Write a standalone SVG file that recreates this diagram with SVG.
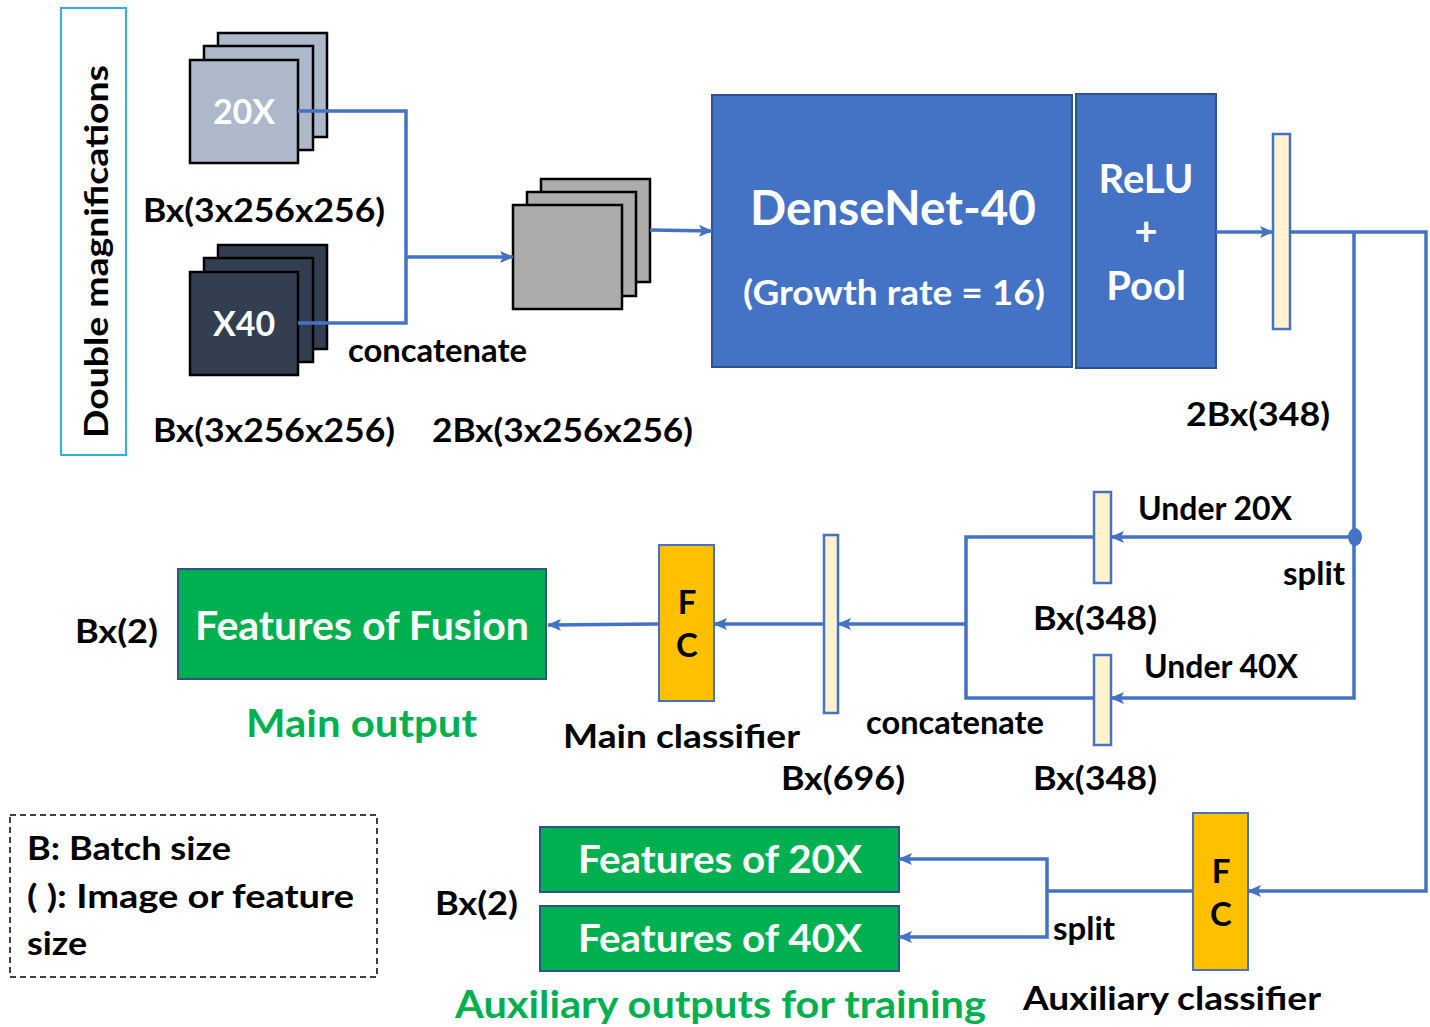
<svg xmlns="http://www.w3.org/2000/svg" width="1430" height="1027" viewBox="0 0 1430 1027">
<style>
text{font-family:Lato,"Open Sans","Liberation Sans",sans-serif;font-weight:bold;}
.blk{fill:#000;font-size:33px;}
.wht{fill:#fff;}
.grn{fill:#00B050;font-size:38px;}
.conn{fill:none;stroke:#4472C4;stroke-width:3.5;}
.s20{fill:#ADB9CA;stroke:#000;stroke-width:2.5;}
.s40{fill:#333F50;stroke:#000;stroke-width:2.5;}
.scat{fill:#AEABAB;stroke:#000;stroke-width:2.5;}
.blue{fill:#4472C4;stroke:#2F528F;stroke-width:2;}
.vec{fill:#FFF2CC;stroke:#4472C4;stroke-width:2.5;}
.fc{fill:#FFC000;stroke:#4472C4;stroke-width:2;}
.out{fill:#00B050;stroke:#2F528F;stroke-width:2;}
</style>
<defs>
<marker id="ar" markerWidth="14" markerHeight="12" refX="13" refY="6" orient="auto" markerUnits="userSpaceOnUse">
<path d="M0,0 L14,6 L0,12 L3,6 Z" fill="#4472C4"/>
</marker>
</defs>
<rect width="1430" height="1027" fill="#fff"/>

<g id="double-magnifications">
<rect x="61" y="8" width="65" height="447" fill="none" stroke="#2DB3E0" stroke-width="2"/>
<text class="blk" font-size="38" transform="translate(108,438) rotate(-90)" textLength="373" lengthAdjust="spacingAndGlyphs">Double magnifications</text>
</g>

<g id="img20x">
<rect class="s20" x="218" y="33" width="109" height="104"/>
<rect class="s20" x="204" y="46" width="109" height="104"/>
<rect class="s20" x="190" y="60" width="108" height="103"/>
<text class="wht" x="244" y="124" font-size="34" text-anchor="middle">20X</text>
<text class="blk" x="143" y="222" font-size="35" textLength="242" lengthAdjust="spacingAndGlyphs">Bx(3x256x256)</text>
</g>

<g id="img40x">
<rect class="s40" x="218" y="245" width="109" height="104"/>
<rect class="s40" x="204" y="258" width="109" height="104"/>
<rect class="s40" x="190" y="272" width="108" height="103"/>
<text class="wht" x="244" y="336" font-size="34" text-anchor="middle">X40</text>
<text class="blk" x="153" y="442" font-size="35" textLength="242" lengthAdjust="spacingAndGlyphs">Bx(3x256x256)</text>
</g>

<g id="concat-img">
<rect class="scat" x="541" y="179" width="109" height="103"/>
<rect class="scat" x="527" y="192" width="109" height="104"/>
<rect class="scat" x="513" y="205" width="109" height="104"/>
<text class="blk" x="432" y="442" font-size="35" textLength="261" lengthAdjust="spacingAndGlyphs">2Bx(3x256x256)</text>
</g>

<g id="densenet">
<rect class="blue" x="712" y="95" width="360" height="272"/>
<text class="wht" x="893" y="225" font-size="47" text-anchor="middle" textLength="286" lengthAdjust="spacingAndGlyphs">DenseNet-40</text>
<text class="wht" x="894" y="305" font-size="35" text-anchor="middle" textLength="302" lengthAdjust="spacingAndGlyphs">(Growth rate = 16)</text>
</g>

<g id="relu-pool">
<rect class="blue" x="1076" y="94" width="140" height="274"/>
<text class="wht" x="1146" y="193" font-size="40" text-anchor="middle">ReLU</text>
<text class="wht" x="1146" y="245" font-size="40" text-anchor="middle">+</text>
<text class="wht" x="1146" y="300" font-size="40" text-anchor="middle">Pool</text>
</g>

<g id="vec-2b">
<rect class="vec" x="1273" y="134" width="17" height="195"/>
<text class="blk" x="1186" y="426" font-size="35" textLength="144" lengthAdjust="spacingAndGlyphs">2Bx(348)</text>
</g>

<g id="vec-20x">
<rect class="vec" x="1094" y="492" width="17" height="91"/>
<text class="blk" x="1033" y="630" font-size="35" textLength="124" lengthAdjust="spacingAndGlyphs">Bx(348)</text>
</g>

<g id="vec-40x">
<rect class="vec" x="1094" y="655" width="17" height="90"/>
<text class="blk" x="1033" y="790" font-size="35" textLength="124" lengthAdjust="spacingAndGlyphs">Bx(348)</text>
</g>

<g id="vec-696">
<rect class="vec" x="824" y="535" width="14" height="178"/>
<text class="blk" x="781" y="790" font-size="35" textLength="124" lengthAdjust="spacingAndGlyphs">Bx(696)</text>
</g>

<g id="main-fc">
<rect class="fc" x="659" y="545" width="55" height="156"/>
<text class="blk" x="687" y="614" font-size="30" text-anchor="middle">F</text>
<text class="blk" x="687" y="657" font-size="30" text-anchor="middle">C</text>
<text class="blk" x="563" y="748" font-size="35" textLength="237" lengthAdjust="spacingAndGlyphs">Main classifier</text>
</g>

<g id="fusion">
<rect class="out" x="178" y="569" width="368" height="110"/>
<text class="wht" x="362" y="640" font-size="41" text-anchor="middle" textLength="334" lengthAdjust="spacingAndGlyphs">Features of Fusion</text>
<text class="blk" x="75" y="643" font-size="35" textLength="83" lengthAdjust="spacingAndGlyphs">Bx(2)</text>
<text class="grn" x="246" y="737" font-size="39" textLength="231" lengthAdjust="spacingAndGlyphs">Main output</text>
</g>

<g id="aux-fc">
<rect class="fc" x="1193" y="813" width="55" height="157"/>
<text class="blk" x="1221" y="883" font-size="30" text-anchor="middle">F</text>
<text class="blk" x="1221" y="926" font-size="30" text-anchor="middle">C</text>
<text class="blk" x="1023" y="1010" font-size="35" textLength="298" lengthAdjust="spacingAndGlyphs">Auxiliary classifier</text>
</g>

<g id="feat20x">
<rect class="out" x="540" y="827" width="359" height="65"/>
<text class="wht" x="720" y="873" font-size="39" text-anchor="middle" textLength="284" lengthAdjust="spacingAndGlyphs">Features of 20X</text>
</g>

<g id="feat40x">
<rect class="out" x="540" y="906" width="359" height="65"/>
<text class="wht" x="720" y="952" font-size="39" text-anchor="middle" textLength="284" lengthAdjust="spacingAndGlyphs">Features of 40X</text>
<text class="blk" x="435" y="915" font-size="35" textLength="83" lengthAdjust="spacingAndGlyphs">Bx(2)</text>
<text class="grn" x="455" y="1018" font-size="39" textLength="531" lengthAdjust="spacingAndGlyphs">Auxiliary outputs for training</text>
</g>

<g id="legend">
<rect x="10" y="815" width="367" height="162" fill="none" stroke="#000" stroke-width="1.5" stroke-dasharray="6,4"/>
<text class="blk" x="27" y="860" font-size="35" textLength="204" lengthAdjust="spacingAndGlyphs">B: Batch size</text>
<text class="blk" x="27" y="908" font-size="35" textLength="327" lengthAdjust="spacingAndGlyphs">( ): Image or feature</text>
<text class="blk" x="27" y="955" font-size="35" textLength="60" lengthAdjust="spacingAndGlyphs">size</text>
</g>

<g id="connectors">
<path class="conn" d="M298,111 H406 V323 H298"/>
<path class="conn" d="M406,257 H513" marker-end="url(#ar)"/>
<path class="conn" d="M650,230 L712,231" marker-end="url(#ar)"/>
<path class="conn" d="M1216,232 H1273" marker-end="url(#ar)"/>
<path class="conn" d="M1290,232 H1426 V891 H1248" marker-end="url(#ar)"/>
<path class="conn" d="M1354,232 V698 H1111" marker-end="url(#ar)"/>
<path class="conn" d="M1354,537 H1111" marker-end="url(#ar)"/>
<ellipse cx="1355" cy="537" rx="7" ry="9" fill="#4472C4"/>
<path class="conn" d="M1094,537 H966 V698 H1094"/>
<path class="conn" d="M966,624 H838" marker-end="url(#ar)"/>
<path class="conn" d="M824,624 H714" marker-end="url(#ar)"/>
<path class="conn" d="M659,624 L548,625" marker-end="url(#ar)"/>
<path class="conn" d="M1193,891 H1047 V859 H899" marker-end="url(#ar)"/>
<path class="conn" d="M1047,891 V937 H899" marker-end="url(#ar)"/>
<text class="blk" x="348" y="362" font-size="31" textLength="179" lengthAdjust="spacingAndGlyphs">concatenate</text>
<text class="blk" x="866" y="734" font-size="31" textLength="178" lengthAdjust="spacingAndGlyphs">concatenate</text>
<text class="blk" x="1138" y="520" font-size="31" textLength="154" lengthAdjust="spacingAndGlyphs">Under 20X</text>
<text class="blk" x="1144" y="678" font-size="31" textLength="154" lengthAdjust="spacingAndGlyphs">Under 40X</text>
<text class="blk" x="1283" y="585" font-size="31" textLength="62" lengthAdjust="spacingAndGlyphs">split</text>
<text class="blk" x="1053" y="940" font-size="31" textLength="62" lengthAdjust="spacingAndGlyphs">split</text>
</g>
</svg>
